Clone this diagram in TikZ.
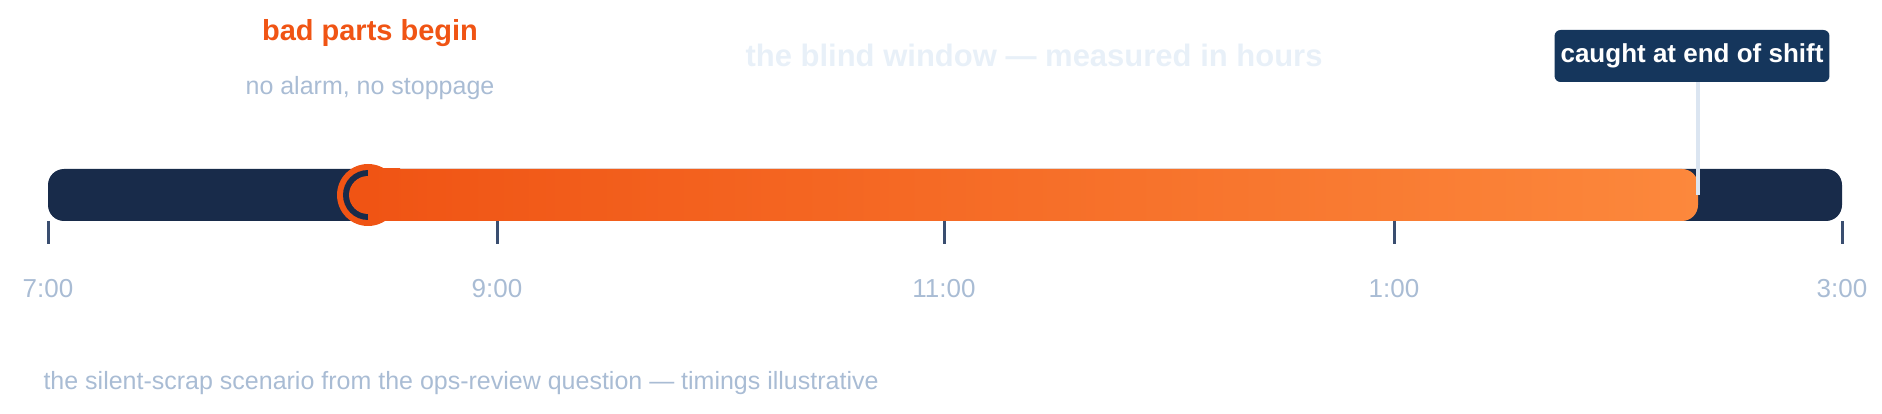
\documentclass[tikz,border=0pt]{standalone}
\usepackage{fontspec}
\setmainfont{Liberation Sans}
\definecolor{navy}{HTML}{182B4A}
\definecolor{tagblue}{HTML}{15365C}
\definecolor{hot}{HTML}{F05414}
\definecolor{warm}{HTML}{FC883C}
\definecolor{mist}{HTML}{A9BCD4}
\definecolor{haze}{HTML}{E8F0F8}
\definecolor{tickc}{HTML}{3A4E70}
\tikzset{
  tick/.style={draw=tickc, line width=3pt},
  hour/.style={text=mist, font=\fontsize{26}{30}\selectfont},
}
\begin{document}
\begin{tikzpicture}[x=1pt,y=-1pt]
            \useasboundingbox (0,0) rectangle (1882,414);

            \coordinate (L) at (48,195);
            \coordinate (R) at (1842,195);

            \fill[navy, rounded corners=16pt] (48,169) rectangle (1842,221);
            \shade[left color=hot, right color=warm, rounded corners=16pt] (362,169) rectangle (1698,221);

            \fill[hot] (368,195) circle[radius=31];
            \fill[navy] (368,195) circle[radius=25];
            \fill[hot] (368,195) circle[radius=19];
            \shade[left color=hot, right color=hot!97!warm] (368,169) rectangle (400,221);

            \foreach \x/\t [count=\i] in {48/7:00, 497/9:00, 944/11:00, 1394/1:00, 1842/3:00} {
                \coordinate (t\i) at (\x,221);
                \draw[tick] (\x,221) -- (\x,244);
                \node[hour] (h\i) at (\x,289) {\t};
            }

            \node[text=hot, font=\bfseries\fontsize{29}{34}\selectfont] (bad) at (370,33) {bad parts begin};
            \node[text=mist, font=\fontsize{25}{30}\selectfont] (quiet) at (370,88) {no alarm, no stoppage};
            \node[text=haze, font=\bfseries\fontsize{31}{36}\selectfont] (blind) at (1034,55) {the blind window — measured in hours};

            \node[fill=tagblue, text=white, rounded corners=6pt, inner sep=6pt, minimum height=52pt,
                  font=\bfseries\fontsize{26}{30}\selectfont] (caught) at (1692,56) {caught at end of shift};
            \coordinate (stop) at (1698,195);
            \draw[haze!80!mist, line width=4pt] (caught.south -| stop) -- (stop);

            \node[text=mist, anchor=west, font=\fontsize{25}{30}\selectfont] (note) at (40,383)
                {the silent-scrap scenario from the ops-review question — timings illustrative};
        \end{tikzpicture}
\end{document}
